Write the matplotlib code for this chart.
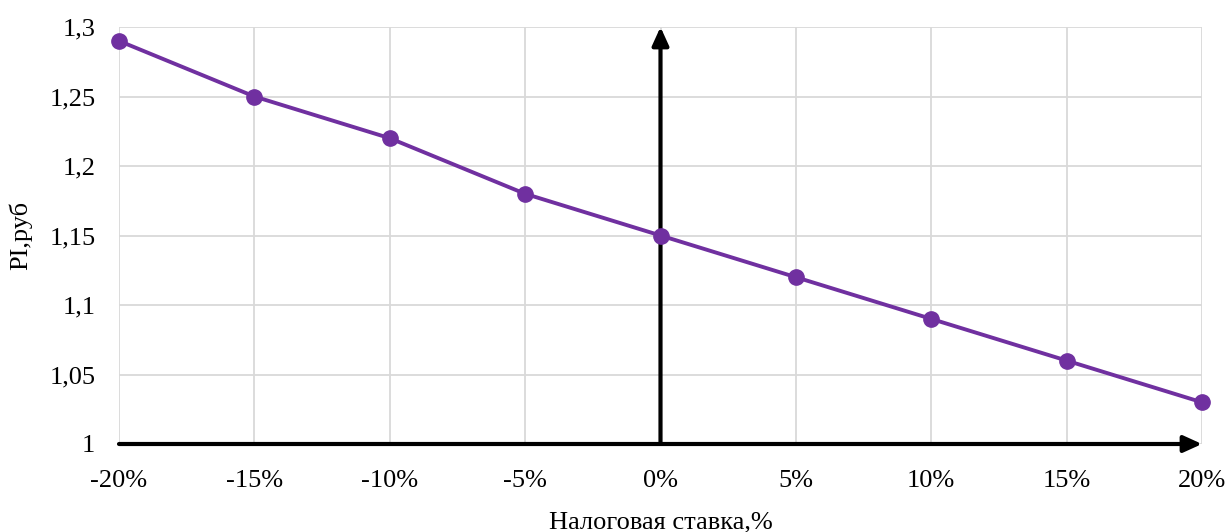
import matplotlib.pyplot as plt
from matplotlib.ticker import FuncFormatter

rates = [-20, -15, -10, -5, 0, 5, 10, 15, 20]
pi_values = [1.29, 1.25, 1.22, 1.18, 1.15, 1.12, 1.09, 1.06, 1.03]
y_ticks = [1.0, 1.05, 1.1, 1.15, 1.2, 1.25, 1.3]

plt.rcParams['font.family'] = ['Liberation Serif', 'DejaVu Serif']
fs = 19

fig = plt.figure(figsize=(12.28, 5.32), dpi=100)
ax = fig.add_axes([119 / 1228, 1 - 444 / 532, (1202 - 119) / 1228, (444 - 27) / 532])

ax.set_xlim(-20, 20)
ax.set_ylim(1.0, 1.3)
ax.set_xticks(rates)
ax.set_yticks(y_ticks)
ax.xaxis.set_major_formatter(FuncFormatter(lambda v, p: f'{v:.0f}%'))
ax.yaxis.set_major_formatter(FuncFormatter(lambda v, p: f'{v:g}'.replace('.', ',')))
ax.grid(True, color='#d9d9d9', linewidth=1.3)
ax.set_axisbelow(True)
for s in ax.spines.values():
    s.set_visible(False)
ax.tick_params(length=0, labelsize=fs)
ax.tick_params(axis='y', pad=17)
ax.tick_params(axis='x', pad=19)

# axis arrows
arrow = dict(arrowstyle='-|>,head_length=1.1,head_width=0.5', color='black', lw=3,
             shrinkA=0, shrinkB=0)
ax.annotate('', xy=(20, 1.0), xytext=(-20, 1.0), arrowprops=arrow, annotation_clip=False)
ax.annotate('', xy=(0, 1.3), xytext=(0, 1.0), arrowprops=arrow, annotation_clip=False)

ax.plot(rates, pi_values, color='#7030a0', linewidth=2.8, marker='o', markersize=11,
        clip_on=False, zorder=5)

ax.set_xlabel('Налоговая ставка,%', fontsize=fs, labelpad=14)
ax.set_ylabel('PI,руб', fontsize=fs, labelpad=12)

fig.savefig('out.png', dpi=100)
